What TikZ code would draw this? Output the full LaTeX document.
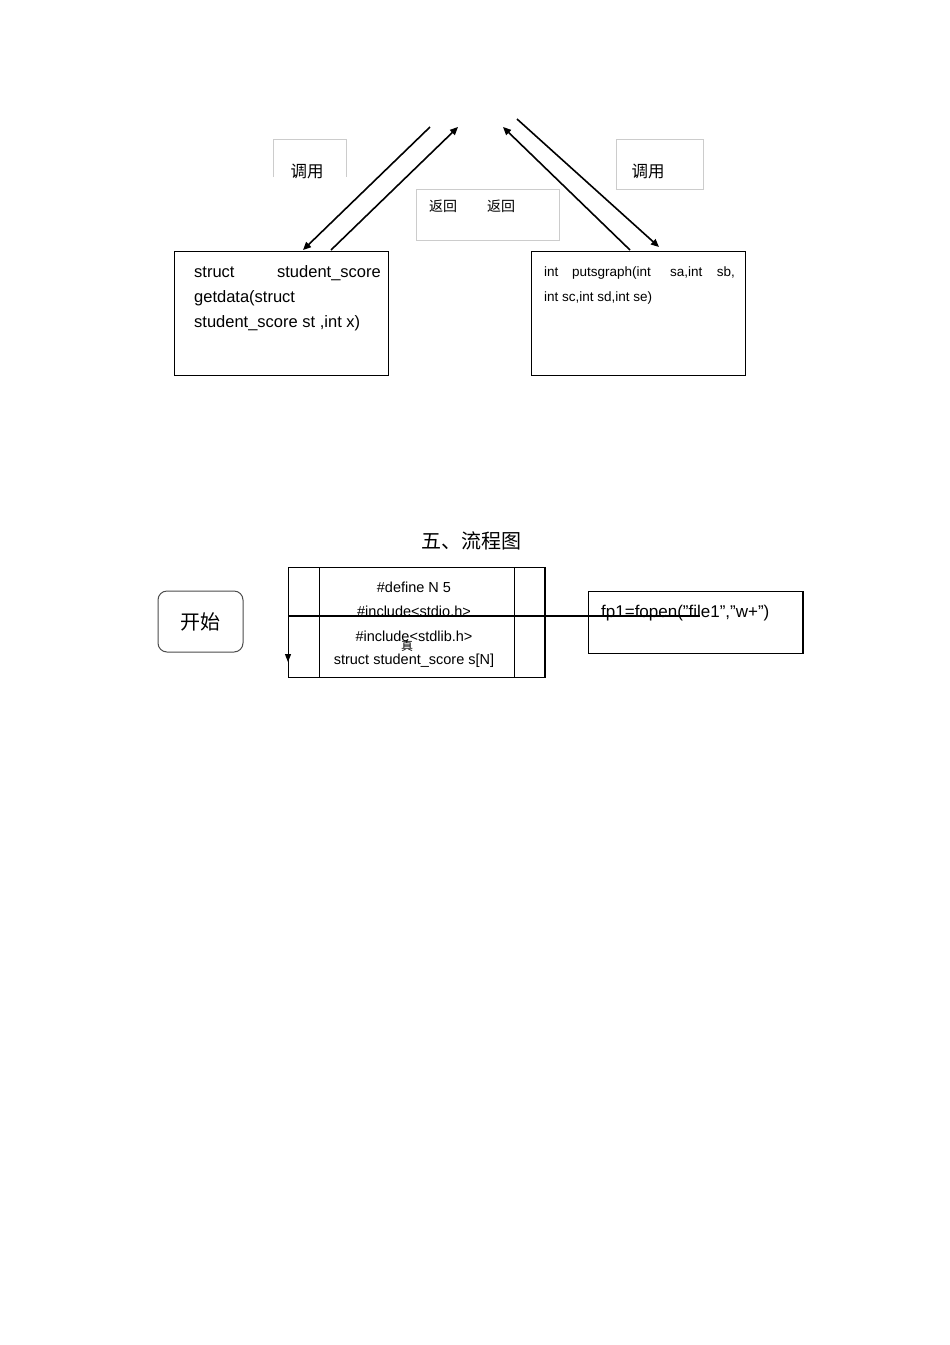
\documentclass[tikz,border=0pt]{standalone}
\usepackage{fontspec}
\setmainfont{Liberation Sans}
\newfontfamily\cjk{Noto Sans CJK SC}
\usetikzlibrary{arrows.meta}
\begin{document}
\begin{tikzpicture}[x=1pt,y=-1pt,
  arr/.style={draw,line width=1.6pt,-{Triangle[length=8pt,width=7pt]}},
  lbl/.style={draw=gray!40,line width=0.6pt},
  txt/.style={inner sep=0pt,anchor=base west,font=\fontsize{16.5}{16}\selectfont},
  box/.style={draw,line width=0.9pt}]
\useasboundingbox[fill=white] (0,0) rectangle (950,1345);
% label boxes
\draw[lbl] (273,177) -- (273,139) -- (346,139) -- (346,177);
\node[font=\cjk\fontsize{16.5}{16}\selectfont] (l1) at (307,171) {调用};
\draw[lbl] (616,139) rectangle (703,189);
\node[font=\cjk\fontsize{16.5}{16}\selectfont] (l2) at (648,171) {调用};
\draw[lbl] (416,189) rectangle (559,240);
\node[font=\cjk\fontsize{14}{14}\selectfont] (r1) at (443,206) {返回};
\node[font=\cjk\fontsize{14}{14}\selectfont] (r2) at (501,206) {返回};
% function boxes
\node[box,minimum width=214pt,minimum height=124pt,anchor=north west] (fa) at (174,251) {};
\node[txt] at (194,277) {struct};
\node[txt,anchor=base east] at (381,277) {student\_score};
\node[txt] at (194,302) {getdata(struct};
\node[txt] at (194,327) {student\_score st ,int x)};
\node[box,minimum width=214pt,minimum height=124pt,anchor=north west] (fb) at (531,251) {};
\node[txt,font=\fontsize{13.5}{13}\selectfont] at (544,276) {int};
\node[txt,font=\fontsize{13.5}{13}\selectfont] at (572,276) {putsgraph(int};
\node[txt,font=\fontsize{13.5}{13}\selectfont] at (670,276) {sa,int};
\node[txt,font=\fontsize{13.5}{13}\selectfont,anchor=base east] at (735,276) {sb,};
\node[txt,font=\fontsize{13.5}{13}\selectfont] at (544,301) {int sc,int sd,int se)};
% arrows
\coordinate (a1) at (430,127); \coordinate (a2) at (303,250);
\coordinate (b1) at (331,250); \coordinate (b2) at (458,127);
\coordinate (c1) at (630,250); \coordinate (c2) at (503,127);
\coordinate (d1) at (517,119); \coordinate (d2) at (659,247);
\draw[arr] (a1) -- (a2);
\draw[arr] (b1) -- (b2);
\draw[arr] (c1) -- (c2);
\draw[arr] (d1) -- (d2);
% title
\node[font=\cjk\fontsize{20}{20}\selectfont] (title) at (471,541) {五、流程图};
% start
\node[draw=black!70,line width=1pt,rounded corners=9pt,minimum width=85pt,minimum height=61pt,font=\cjk\fontsize{20}{20}\selectfont] (start) at (200.5,621.5) {开始};
% process box
\node[draw,line width=1pt,minimum width=257pt,minimum height=110pt,anchor=north west] (pb) at (288,567) {};
\draw[line width=0.8pt] (319,567) -- (319,677);
\draw[line width=0.8pt] (514,567) -- (514,677);
\draw[line width=2pt] (545,567) -- (545,677);
\node[font=\fontsize{14.5}{14}\selectfont] at (414,587) {\#define N 5};
\node[font=\fontsize{14.5}{14}\selectfont] at (414,611) {\#include<stdio.h>};
\node[font=\fontsize{14.5}{14}\selectfont] at (414,636) {\#include<stdlib.h>};
\node[font=\cjk\fontsize{12}{12}\selectfont] at (407,646) {真};
\node[font=\fontsize{14.5}{14}\selectfont] at (414,661) {struct student\_score s[N]};
% right box
\node[draw,line width=1pt,minimum width=215pt,minimum height=62pt,anchor=north west] (fo) at (588,591) {};
\draw[line width=2pt] (803,591) -- (803,653);
\node[txt,font=\fontsize{17}{17}\selectfont] at (601,617) {fp1=fopen(\symbol{34}file1\symbol{34},\symbol{34}w+\symbol{34})};
% horizontal line and down arrow
\coordinate (h1) at (288,616); \coordinate (h2) at (700,616); \coordinate (h3) at (288,662);
\draw[line width=1.8pt] (h1) -- (h2);
\draw[line width=1pt,-{Triangle[length=8pt,width=6pt]}] (h1) -- (h3);
\end{tikzpicture}
\end{document}
